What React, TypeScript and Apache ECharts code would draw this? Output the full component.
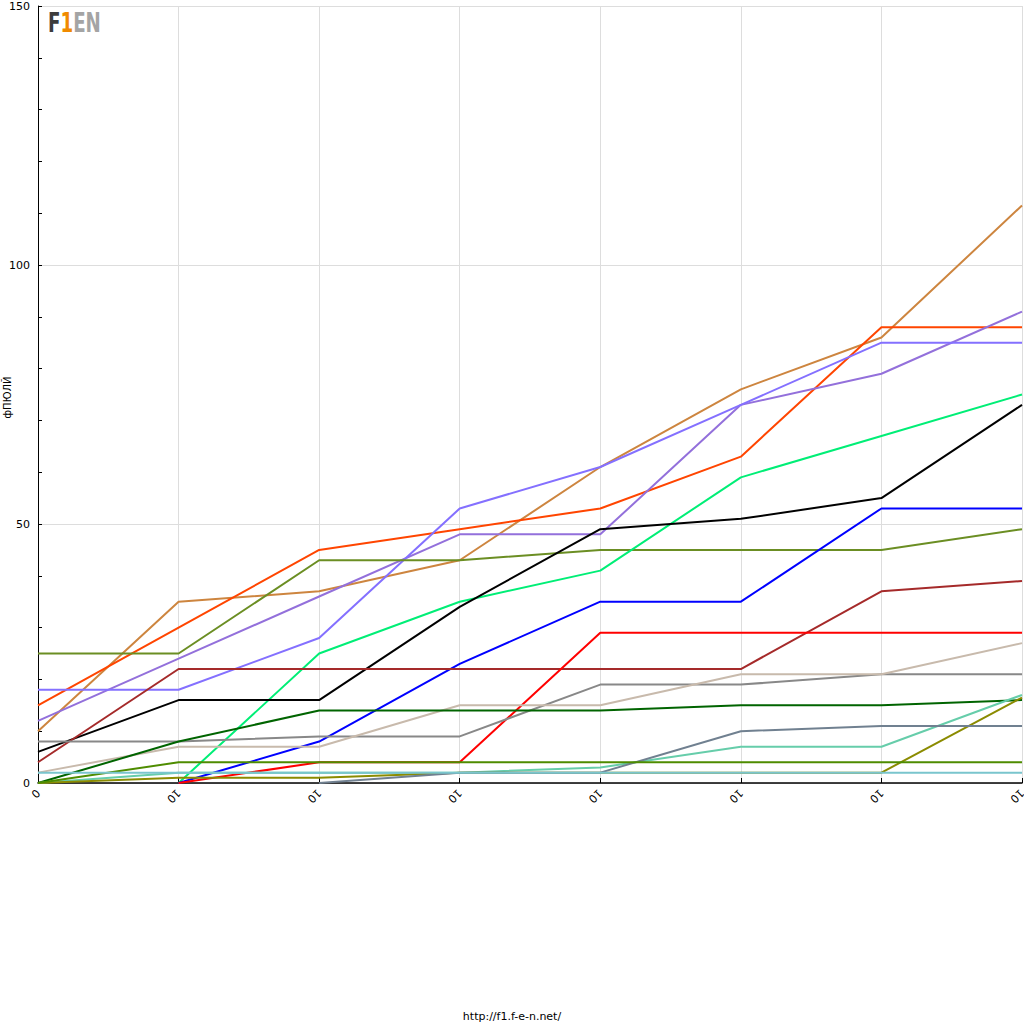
import React, { useEffect, useRef } from "react";
import * as echarts from "echarts";

const categories = ["0", "10", "10", "10", "10", "10", "10", "10"];
const yTicks = [0, 50, 100, 150];

const sChocolate = [10, 35, 37, 43, 61, 76, 86, 111.5];
const sOrangeRed = [15, 30, 45, 49, 53, 63, 88, 88];
const sMediumPurple = [12, 24, 36, 48, 48, 73, 79, 91];
const sSlateBlue = [18, 18, 28, 53, 61, 73, 85, 85];
const sOliveDrab = [25, 25, 43, 43, 45, 45, 45, 49];
const sSpringGreen = [null, 0, 25, 35, 41, 59, 67, 75];
const sBlack = [6, 16, 16, 34, 49, 51, 55, 73];
const sBlue = [null, 0, 8, 23, 35, 35, 53, 53];
const sBrown = [4, 22, 22, 22, 22, 22, 37, 39];
const sRed = [null, 0, 4, 4, 29, 29, 29, 29];
const sGray = [8, 8, 9, 9, 19, 19, 21, 21];
const sTan = [2, 7, 7, 15, 15, 21, 21, 27];
const sDarkGreen = [0, 8, 14, 14, 14, 15, 15, 16];
const sAquamarine = [0, 2, 2, 2, 3, 7, 7, 17];
const sOlive = [0, 1, 1, 2, 2, 2, 2, 16.5];
const sSlateGray = [null, null, 0, 2, 2, 10, 11, 11];
const sGreen = [0, 4, 4, 4, 4, 4, 4, 4];
const sCadet = [2, 2, 2, 2, 2, 2, 2, 2];

const seriesList: [string, (number | null)[], string][] = [
  ["chocolate", sChocolate, "#CD853F"],
  ["orangered", sOrangeRed, "#FF4500"],
  ["mediumpurple", sMediumPurple, "#9370DB"],
  ["slateblue", sSlateBlue, "#8470FF"],
  ["olivedrab", sOliveDrab, "#6B8E23"],
  ["springgreen", sSpringGreen, "#00EE76"],
  ["black", sBlack, "#000000"],
  ["blue", sBlue, "#0000FF"],
  ["brown", sBrown, "#A52A2A"],
  ["red", sRed, "#FF0000"],
  ["gray", sGray, "#888888"],
  ["tan", sTan, "#C8BAAC"],
  ["darkgreen", sDarkGreen, "#006400"],
  ["aquamarine", sAquamarine, "#66CDAA"],
  ["olive", sOlive, "#8B8B00"],
  ["slategray", sSlateGray, "#708090"],
  ["green", sGreen, "#4E8C00"],
  ["cadet", sCadet, "#7AC5CD"],
];

const LOGO_FONT = "'Liberation Sans Narrow', 'DejaVu Sans Condensed', sans-serif";

export default function App() {
  const ref = useRef<HTMLDivElement>(null);
  useEffect(() => {
    document.body.style.margin = "0";
    const chart = echarts.init(ref.current!, null, { renderer: "svg" });
    chart.setOption({
      animation: false,
      backgroundColor: "#ffffff",
      textStyle: { fontFamily: "DejaVu Sans" },
      grid: { left: 38, right: 2, top: 6, bottom: 241, containLabel: false, outerBoundsMode: "none" },
      xAxis: {
        type: "category",
        data: categories,
        boundaryGap: false,
        axisLine: { show: true, lineStyle: { color: "#000", width: 1.5 } },
        axisTick: { show: true, inside: true, length: 5, lineStyle: { color: "#000" } },
        axisLabel: { rotate: 225, fontSize: 11, color: "#000", margin: 8, interval: 0 },
        splitLine: { show: true, lineStyle: { color: "#dddddd", width: 1 } },
      },
      yAxis: {
        type: "value",
        min: yTicks[0],
        max: yTicks[yTicks.length - 1],
        interval: 50,
        name: "фПЮЛЙ",
        nameLocation: "middle",
        nameGap: 26,
        nameRotate: 90,
        nameMoveOverlap: false,
        nameTextStyle: { fontSize: 10, color: "#000", padding: [0, 6, 0, 0] },
        axisLine: { show: true, lineStyle: { color: "#000", width: 1 } },
        axisTick: { show: true, inside: true, length: 4, lineStyle: { color: "#000" } },
        minorTick: { show: true, splitNumber: 5, length: 4, lineStyle: { color: "#000" } },
        axisLabel: { fontSize: 11, color: "#000", margin: 8 },
        splitLine: { show: true, lineStyle: { color: "#dddddd", width: 1 } },
      },
      graphic: [
        {
          type: "text",
          x: 48,
          y: 10,
          scaleX: 0.78,
          style: {
            text: "{a|F}{b|1}{c|EN}",
            verticalAlign: "top",
            rich: {
              a: { font: "bold 26px " + LOGO_FONT, fill: "#3c3c3c", color: "#3c3c3c" },
              b: { font: "bold 26px " + LOGO_FONT, fill: "#F08A00", color: "#F08A00" },
              c: { font: "bold 26px " + LOGO_FONT, fill: "#a4a4a4", color: "#a4a4a4" },
            },
          },
        },
        {
          type: "text",
          left: "center",
          top: 1011,
          style: { text: "http://f1.f-e-n.net/", font: "11px DejaVu Sans", fill: "#000" },
        },
      ],
      series: seriesList.map(([name, data, color]) => ({
        name,
        type: "line",
        data,
        showSymbol: false,
        symbol: "none",
        lineStyle: { color, width: 2 },
        itemStyle: { color },
      })),
    });
    return () => chart.dispose();
  }, []);
  return <div ref={ref} style={{ width: 1024, height: 1024, position: "absolute", left: 0, top: 0 }} />;
}
